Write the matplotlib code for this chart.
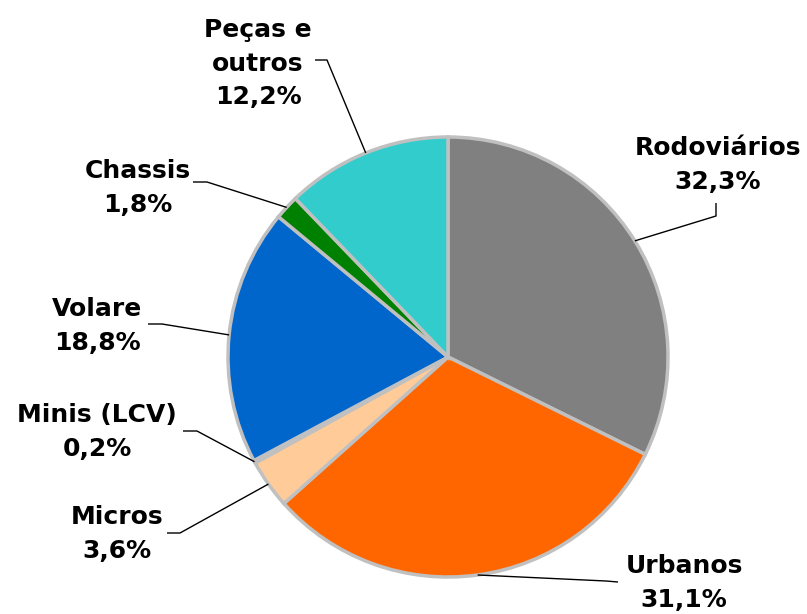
import numpy as np
import matplotlib.pyplot as plt

# data
categories = ["Rodoviários", "Urbanos", "Micros", "Minis (LCV)", "Volare", "Chassis", "Peças e\noutros"]
shares = [32.3, 31.1, 3.6, 0.2, 18.8, 1.8, 12.2]
colors = ["#808080", "#FF6600", "#FFCC99", "#C0C0C0", "#0066CC", "#008000", "#33CCCC"]

# layout (pixels): pie centre / radius, label centres, leader elbows
W, H = 807, 614
CX, CY, R = 448, 357, 220
label_pos = [(718, 165), (684, 583), (117, 534), (97, 432), (97, 326), (138, 188), (258, 64)]
elbows = [[(716, 216), (716, 203)],
          [(606, 581), (618, 582)],
          [(180, 533), (167, 533)],
          [(197, 431), (183, 431)],
          [(162, 324), (148, 324)],
          [(207, 182), (193, 182)],
          [(327, 60), (315, 60)]]


def px(p):
    return ((p[0] - CX) / R, (CY - p[1]) / R)


fig = plt.figure(figsize=(W / 100, H / 100), dpi=100)
ax = fig.add_axes([0, 0, 1, 1])

wedges, _ = ax.pie(shares, colors=colors, startangle=90, counterclock=False, radius=1,
                   wedgeprops=dict(edgecolor="#C0C0C0", linewidth=2.5))
ax.set_xlim(-CX / R, (W - CX) / R)
ax.set_ylim(-(H - CY) / R, CY / R)
ax.set_aspect("equal")
ax.axis("off")

for w, name, v, pos, elb in zip(wedges, categories, shares, label_pos, elbows):
    mid = np.deg2rad((w.theta1 + w.theta2) / 2)
    tip = (np.cos(mid), np.sin(mid))
    pts = [tip] + [px(e) for e in elb]
    xs, ys = zip(*pts)
    ax.plot(xs, ys, color="black", lw=1, solid_capstyle="butt")
    txt = name + "\n" + ("%.1f%%" % v).replace(".", ",")
    ax.text(*px(pos), txt, ha="center", va="center", fontsize=18, fontweight="bold",
            family="DejaVu Sans", linespacing=1.5)

fig.savefig("out.png", dpi=100)
